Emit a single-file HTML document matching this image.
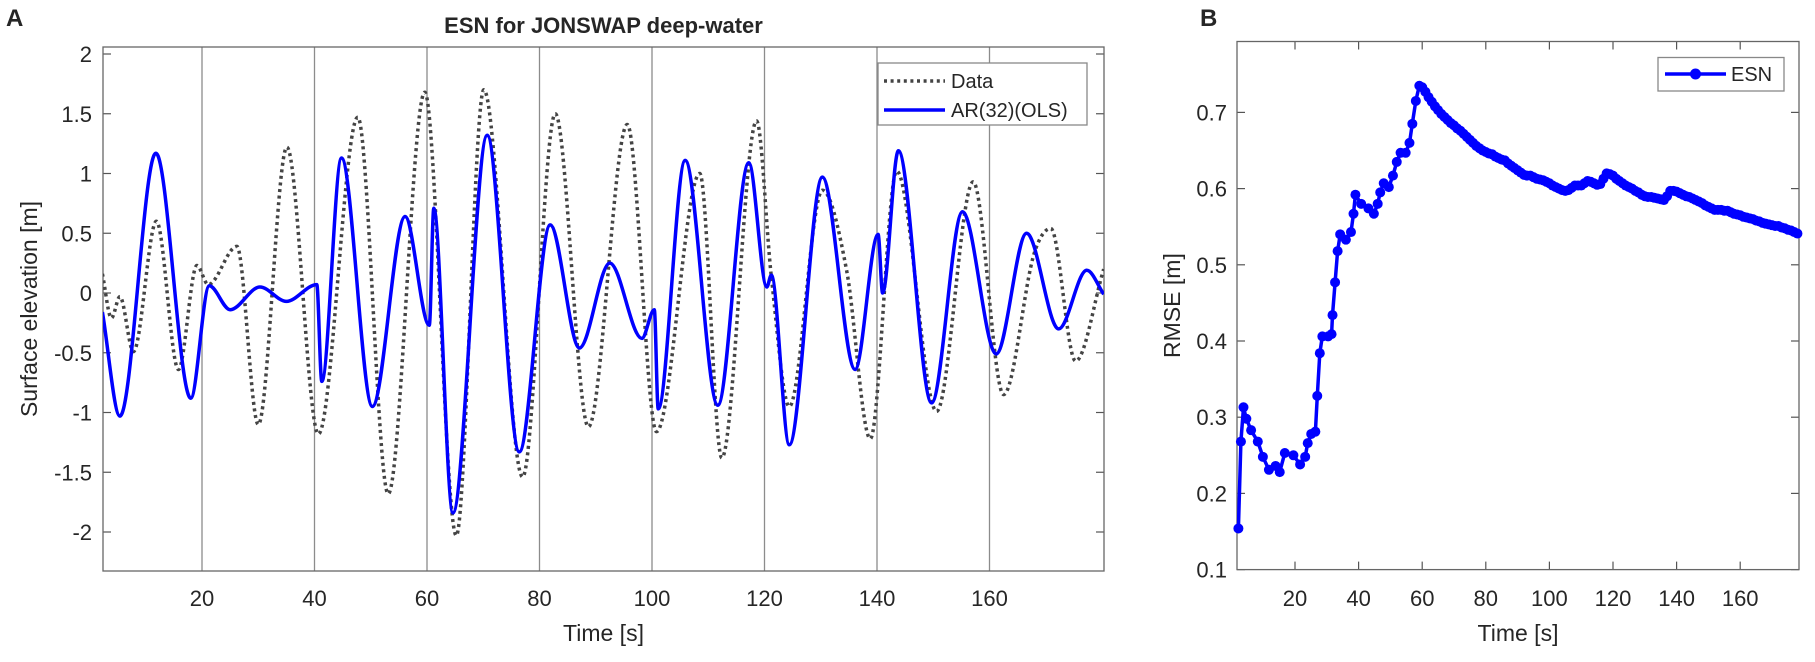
<!DOCTYPE html>
<html><head><meta charset="utf-8"><style>
body{margin:0;background:#fff;}
svg text{font-family:"Liberation Sans",Arial,sans-serif;fill:#262626;}
</style></head><body>
<svg id="fig" width="1815" height="657" viewBox="0 0 1815 657" xmlns="http://www.w3.org/2000/svg">
<text x="6" y="26" font-size="24" font-weight="bold" fill="#000">A</text>
<text x="1200" y="26" font-size="24" font-weight="bold" fill="#000">B</text>
<g id="left"></g>
<g id="right"></g>
</svg>
<script>
// ---- Left chart data ----
const dataT = [2.3,3.9,5.4,7.8,11.9,15.8,19.1,21.1,26.2,30.0,35.1,40.7,47.7,53.1,59.6,65.2,70.1,77.0,82.8,88.7,95.6,100.8,108.5,112.4,118.6,121.2,124.4,130.3,134.6,138.8,143.5,150.6,157.1,162.5,168.0,170.9,175.3,180.3];
const dataV = [0.16,-0.21,-0.03,-0.49,0.60,-0.64,0.23,0.07,0.39,-1.10,1.22,-1.18,1.47,-1.68,1.68,-2.03,1.70,-1.54,1.50,-1.12,1.41,-1.16,1.00,-1.38,1.44,0.14,-0.95,0.86,0.19,-1.22,1.02,-0.99,0.93,-0.85,0.34,0.54,-0.57,0.20];
const arT = [2.3,5.4,11.8,18.0,21.3,25.0,30.3,35.0,40.4,41.3,44.8,50.3,56.1,60.4,61.2,64.6,70.7,76.4,81.9,87.1,92.5,98.2,100.4,101.1,105.9,111.7,117.2,120.4,121.2,124.4,130.3,136.1,140.2,141.0,143.8,149.7,155.2,161.2,166.6,172.3,177.3,180.3];
const arV = [-0.16,-1.03,1.17,-0.88,0.06,-0.14,0.05,-0.07,0.07,-0.74,1.13,-0.95,0.64,-0.27,0.71,-1.84,1.32,-1.33,0.57,-0.46,0.25,-0.38,-0.14,-0.97,1.11,-0.94,1.09,0.05,0.15,-1.27,0.97,-0.64,0.49,0.00,1.19,-0.92,0.68,-0.51,0.50,-0.30,0.19,-0.01];
const leftXTicks = [20,40,60,80,100,120,140,160];
const leftYTicks = [2,1.5,1,0.5,0,-0.5,-1,-1.5,-2];
const leftYLabels = ["2","1.5","1","0.5","0","-0.5","-1","-1.5","-2"];
// ---- Right chart data ----
const rmseT = [2.2,3.0,3.8,4.7,6.2,8.3,9.9,11.8,13.9,15.2,16.8,19.5,21.6,23.2,24.0,25.1,26.4,27.0,27.8,28.6,30.4,31.5,31.8,32.6,33.4,34.2,36.0,37.6,38.4,39.0,40.8,43.1,44.8,46.0,46.8,47.9,49.5,50.8,52.0,53.2,54.8,56.0,56.9,58.0,59.1,
60,61,62,63,64,65,66,67,68,69,70,71,72,73,74,75,76,77,78,79,80,81,82,83,84,85,86,87,88,89,90,91,92,93,94,95,96,97,98,99,100,101,102,103,104,105,106,107,108,109,110,111,112,113,114,115,116,117,118,119,120,121,122,123,124,125,126,127,128,129,130,131,132,133,134,135,136,137,138,139,140,141,142,143,144,145,146,147,148,149,150,151,152,153,154,155,156,157,158,159,160,161,162,163,164,165,166,167,168,169,170,171,172,173,174,175,176,177,178];
const rmseV = [0.154,0.268,0.313,0.298,0.283,0.268,0.248,0.231,0.236,0.228,0.253,0.25,0.238,0.248,0.266,0.278,0.281,0.328,0.384,0.406,0.406,0.409,0.434,0.477,0.518,0.54,0.533,0.543,0.567,0.592,0.58,0.574,0.567,0.58,0.595,0.607,0.602,0.617,0.635,0.647,0.647,0.66,0.685,0.715,0.735,
0.733,0.727,0.72,0.714,0.708,0.703,0.698,0.694,0.69,0.686,0.683,0.679,0.676,0.672,0.668,0.664,0.66,0.656,0.653,0.65,0.648,0.646,0.645,0.642,0.64,0.638,0.637,0.633,0.63,0.627,0.624,0.621,0.618,0.617,0.617,0.615,0.613,0.612,0.611,0.609,0.607,0.604,0.602,0.6,0.598,0.597,0.598,0.601,0.604,0.604,0.604,0.607,0.61,0.609,0.607,0.605,0.606,0.613,0.62,0.619,0.617,0.613,0.61,0.607,0.604,0.602,0.6,0.597,0.595,0.592,0.59,0.589,0.589,0.588,0.587,0.586,0.585,0.59,0.597,0.597,0.596,0.594,0.592,0.59,0.589,0.587,0.585,0.583,0.581,0.578,0.576,0.574,0.572,0.572,0.572,0.571,0.571,0.569,0.567,0.566,0.565,0.563,0.562,0.561,0.56,0.558,0.557,0.555,0.554,0.553,0.552,0.551,0.551,0.549,0.548,0.546,0.545,0.543,0.541];
const rightXTicks = [20,40,60,80,100,120,140,160];
const rightYTicks = [0.1,0.2,0.3,0.4,0.5,0.6,0.7];
const rightYLabels = ["0.1","0.2","0.3","0.4","0.5","0.6","0.7"];

const NS="http://www.w3.org/2000/svg";
function mk(parent,tag,attrs,text){const e=document.createElementNS(NS,tag);for(const k in attrs)e.setAttribute(k,attrs[k]);if(text!==undefined)e.textContent=text;parent.appendChild(e);return e;}

function smoothPath(xs,ys){ // monotone cubic
  const n=xs.length;if(n<2)return "";
  const d=[],m=new Array(n);
  for(let i=0;i<n-1;i++)d.push((ys[i+1]-ys[i])/(xs[i+1]-xs[i]));
  m[0]=d[0];m[n-1]=d[n-2];
  for(let i=1;i<n-1;i++){ if(d[i-1]*d[i]<=0)m[i]=0; else {m[i]=(d[i-1]+d[i])/2; const a=m[i]/d[i-1],b=m[i]/d[i];const s=a*a+b*b;if(s>9){const t=3/Math.sqrt(s);m[i]=t*a*d[i-1];}}}
  let p="M"+xs[0].toFixed(1)+","+ys[0].toFixed(1);
  for(let i=0;i<n-1;i++){const h=(xs[i+1]-xs[i])/3;
    p+=" C"+(xs[i]+h).toFixed(1)+","+(ys[i]+m[i]*h).toFixed(1)+" "+(xs[i+1]-h).toFixed(1)+","+(ys[i+1]-m[i+1]*h).toFixed(1)+" "+xs[i+1].toFixed(1)+","+ys[i+1].toFixed(1);}
  return p;
}

// ---- Left chart ----
(function(){
  const g=document.getElementById('left');
  const L=103,R=1104,T=47,B=571;
  const sx=t=>89.5+5.625*t, sy=v=>293-119.5*v;
  leftXTicks.forEach(t=>{
    const gl=mk(g,'line',{x1:sx(t),x2:sx(t),y1:T,y2:B,stroke:'#8c8c8c','stroke-width':1.3});
    
    
    const lb=mk(g,'text',{x:sx(t),y:606,'font-size':22,'text-anchor':'middle'},String(t));
    
    
  });
  leftYTicks.forEach((v,i)=>{
    const tk=mk(g,'line',{x1:L,x2:L+8,y1:sy(v),y2:sy(v),stroke:'#555','stroke-width':1.2});
    
    
    const tk2=mk(g,'line',{x1:R,x2:R-8,y1:sy(v),y2:sy(v),stroke:'#555','stroke-width':1.2});
    
    
    const lb=mk(g,'text',{x:92,y:sy(v)+8,'font-size':22,'text-anchor':'end'},leftYLabels[i]);
    
    
  });
  const box=mk(g,'rect',{x:L,y:T,width:R-L,height:B-T,fill:'none',stroke:'#666','stroke-width':1.3});
  
  
  const clip=mk(g,'clipPath',{id:'lc'});mk(clip,'rect',{x:L,y:T,width:R-L,height:B-T});
  const dp=mk(g,'path',{d:smoothPath(dataT.map(sx),dataV.map(sy)),fill:'none',stroke:'#444','stroke-width':3.5,'stroke-dasharray':'3 3.6','clip-path':'url(#lc)'});
  
  
  const ap=mk(g,'path',{d:smoothPath(arT.map(sx),arV.map(sy)),fill:'none',stroke:'#0000ff','stroke-width':3.5,'stroke-linejoin':'round','clip-path':'url(#lc)'});
  
  
  const title=mk(g,'text',{x:(L+R)/2,y:33,'font-size':22,'font-weight':'bold','text-anchor':'middle',fill:'#000'},'ESN for JONSWAP deep-water');
  
  
  const xt=mk(g,'text',{x:(L+R)/2,y:641,'font-size':23,'text-anchor':'middle'},'Time [s]');
  
  
  const yt=mk(g,'text',{x:0,y:0,'font-size':23,'text-anchor':'middle',transform:'translate(37,'+((T+B)/2)+') rotate(-90)'},'Surface elevation [m]');
  
  
  const lg=mk(g,'g',{});
  
  
  mk(lg,'rect',{x:878,y:63,width:209,height:62,fill:'#fff',stroke:'#888','stroke-width':1.3});
  const e1=mk(lg,'line',{x1:884,x2:945,y1:81,y2:81,stroke:'#444','stroke-width':3.5,'stroke-dasharray':'3 3.6'});
  
  
  const t1=mk(lg,'text',{x:951,y:88,'font-size':20},'Data');
  
  
  const e2=mk(lg,'line',{x1:884,x2:945,y1:110,y2:110,stroke:'#0000ff','stroke-width':3.5});
  
  
  const t2=mk(lg,'text',{x:951,y:117,'font-size':20},'AR(32)(OLS)');
  
  
})();

// ---- Right chart ----
(function(){
  const g=document.getElementById('right');
  const L=1237,R=1799,T=41.5,B=569.6;
  const sx=t=>1231.4+3.18*t, sy=v=>569.6-762*(v-0.1);
  rightXTicks.forEach(t=>{
    const a=mk(g,'line',{x1:sx(t),x2:sx(t),y1:B,y2:B-8,stroke:'#555','stroke-width':1.2});
    
    
    const b=mk(g,'line',{x1:sx(t),x2:sx(t),y1:T,y2:T+8,stroke:'#555','stroke-width':1.2});
    
    
    const lb=mk(g,'text',{x:sx(t),y:606,'font-size':22,'text-anchor':'middle'},String(t));
    
    
  });
  rightYTicks.forEach((v,i)=>{
    const a=mk(g,'line',{x1:L,x2:L+8,y1:sy(v),y2:sy(v),stroke:'#555','stroke-width':1.2});
    
    
    const b=mk(g,'line',{x1:R,x2:R-8,y1:sy(v),y2:sy(v),stroke:'#555','stroke-width':1.2});
    
    
    const lb=mk(g,'text',{x:1227,y:sy(v)+8,'font-size':22,'text-anchor':'end'},rightYLabels[i]);
    
    
  });
  const box=mk(g,'rect',{x:L,y:T,width:R-L,height:B-T,fill:'none',stroke:'#666','stroke-width':1.3});
  
  
  const pts=rmseT.map((t,i)=>sx(t).toFixed(1)+','+sy(rmseV[i]).toFixed(1)).join(' ');
  const pl=mk(g,'polyline',{points:pts,fill:'none',stroke:'#0000ff','stroke-width':3.5,'stroke-linejoin':'round'});
  
  
  rmseT.forEach((t,i)=>{
    const c=mk(g,'circle',{cx:sx(t),cy:sy(rmseV[i]),r:5,fill:'#0000ff'});
    
    
  });
  const xt=mk(g,'text',{x:(L+R)/2,y:641,'font-size':23,'text-anchor':'middle'},'Time [s]');
  
  
  const yt=mk(g,'text',{x:0,y:0,'font-size':23,'text-anchor':'middle',transform:'translate(1180,'+((T+B)/2)+') rotate(-90)'},'RMSE [m]');
  
  
  const lg=mk(g,'g',{});
  
  
  mk(lg,'rect',{x:1658,y:57.5,width:126,height:33.5,fill:'#fff',stroke:'#888','stroke-width':1.3});
  const s=mk(lg,'line',{x1:1665,x2:1726,y1:74,y2:74,stroke:'#0000ff','stroke-width':3.5});
  
  
  const sc=mk(lg,'circle',{cx:1695.5,cy:74,r:5.5,fill:'#0000ff'});
  
  
  const tx=mk(lg,'text',{x:1731,y:81,'font-size':20},'ESN');
  
  
})();
</script>
</body></html>
